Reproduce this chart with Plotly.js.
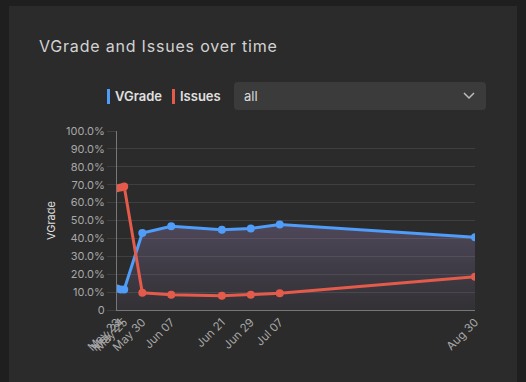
<!DOCTYPE html>
<html>
<head>
<meta charset="utf-8">
<script src="https://cdn.plot.ly/plotly-3.0.1.min.js"></script>
<style>
  html, body { margin:0; padding:0; width:526px; height:382px; overflow:hidden; background:#1f1f1f; font-family: Inter, "Noto Sans", sans-serif; }
  #card { position:absolute; left:9px; top:6px; width:508px; height:376px; background:#2b2b2b; }
  #title { position:absolute; left:39px; top:36px; font-size:16px; color:#d2d2d2; letter-spacing:0.8px; }
  .leg { position:absolute; top:88px; font-size:13px; font-weight:600; color:#e0e0e0; }
  .bar { position:absolute; top:89px; width:3px; height:15px; }
  #dd { position:absolute; left:234px; top:82px; width:252px; height:28px; background:#3b3b3b; border-radius:4px; }
  #ddt { position:absolute; left:10px; top:6px; font-size:13px; color:#dcdcdc; }
  #chart { position:absolute; left:0; top:0; width:526px; height:382px; }
</style>
</head>
<body>
<div id="card"></div>
<div id="title">VGrade and Issues over time</div>
<div class="bar" style="left:107px;background:#4f9cf9"></div>
<div class="leg" style="left:115px">VGrade</div>
<div class="bar" style="left:172px;background:#e45b4b"></div>
<div class="leg" style="left:180px">Issues</div>
<div id="dd"><div id="ddt">all</div>
<svg style="position:absolute;left:229px;top:10px" width="12" height="8"><polyline points="1,1 6,6 11,1" fill="none" stroke="#bdbdbd" stroke-width="1.5"/></svg>
</div>
<div id="chart"></div>
<script>
const dates = ["2023-05-23","2023-05-24","2023-05-25","2023-05-30","2023-06-07","2023-06-21","2023-06-29","2023-07-07","2023-08-30"];
const tickLabels = ["May 23","May 24","May 25","May 30","Jun 07","Jun 21","Jun 29","Jul 07","Aug 30"];
const vgrade = [0.12, 0.115, 0.115, 0.43, 0.468, 0.448, 0.455, 0.478, 0.407];
const issues = [0.68, 0.685, 0.69, 0.096, 0.085, 0.08, 0.085, 0.093, 0.186];
const yTickVals = [0,0.1,0.2,0.3,0.4,0.5,0.6,0.7,0.8,0.9,1.0];
const yTickText = ["0","10.0%","20.0%","30.0%","40.0%","50.0%","60.0%","70.0%","80.0%","90.0%","100.0%"];

const traces = [
  {
    x: dates, y: vgrade, type:'scatter', mode:'lines+markers', name:'VGrade',
    line:{color:'#4f9cf9', width:3}, marker:{color:'#4f9cf9', size:8},
    fill:'tozeroy',
    fillgradient:{type:'vertical', colorscale:[[0,'rgba(150,130,185,0.07)'],[1,'rgba(150,130,185,0.32)']]},
    hoverinfo:'skip'
  },
  {
    x: dates, y: issues, type:'scatter', mode:'lines+markers', name:'Issues',
    line:{color:'#e45b4b', width:3}, marker:{color:'#e45b4b', size:8},
    hoverinfo:'skip'
  }
];
const layout = {
  width:526, height:382,
  margin:{l:117, r:51, t:131, b:72},
  paper_bgcolor:'rgba(0,0,0,0)', plot_bgcolor:'rgba(0,0,0,0)',
  showlegend:false,
  font:{family:'Inter, "Noto Sans", sans-serif', color:'#a8a8a8', size:11},
  xaxis:{
    type:'date', range:[dates[0], dates[dates.length-1]],
    tickvals:dates, ticktext:tickLabels, tickangle:-45,
    showgrid:false, zeroline:false, showline:true, linecolor:'#777', linewidth:1,
    ticks:'', tickfont:{size:11.5, color:'#a8a8a8'}
  },
  yaxis:{
    range:[0,1], tickvals:yTickVals, ticktext:yTickText,
    showgrid:true, gridcolor:'#3f3f3f', gridwidth:1, zeroline:false,
    showline:true, linecolor:'#777', linewidth:1,
    ticks:'outside', ticklen:9, tickcolor:'#3f3f3f',
    tickfont:{size:11, color:'#a8a8a8'},
    title:{text:'VGrade', font:{size:11, color:'#e0e0e0'}, standoff:8}
  }
};
Plotly.newPlot('chart', traces, layout, {displayModeBar:false, staticPlot:true});
</script>
</body>
</html>
